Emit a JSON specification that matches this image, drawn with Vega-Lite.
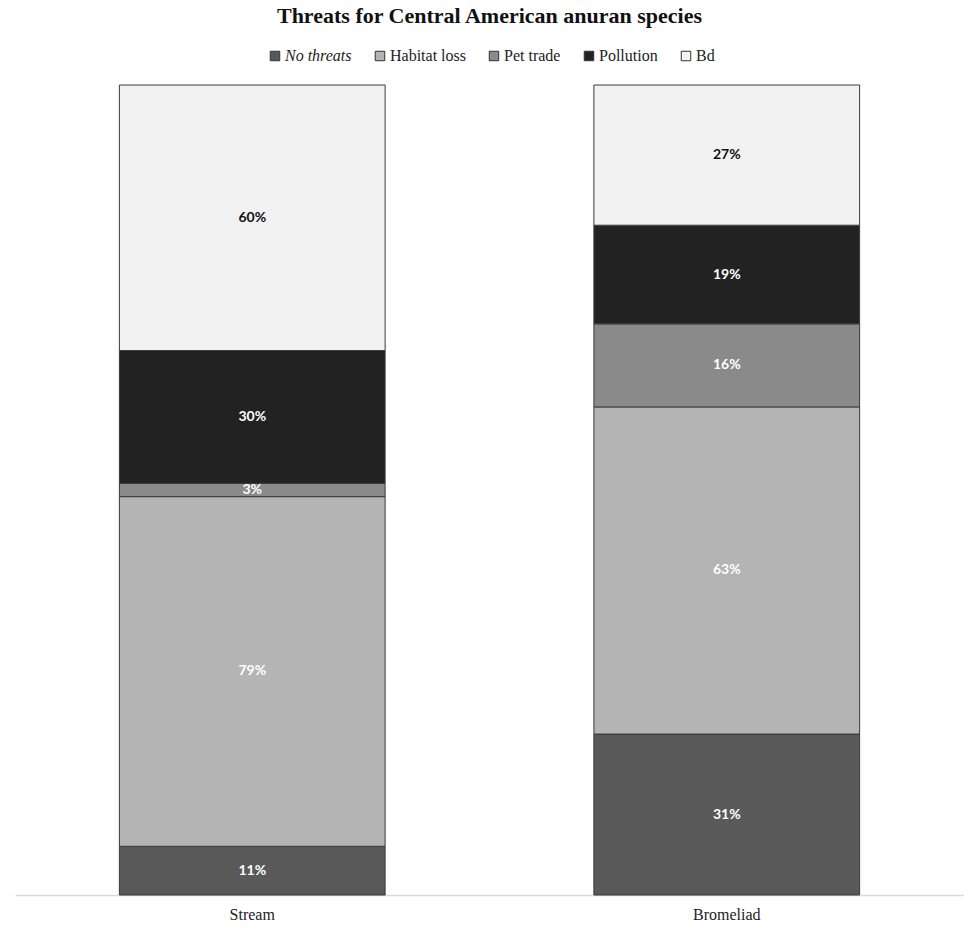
{
  "$schema": "https://vega.github.io/schema/vega-lite/v6.json",
  "width": 949,
  "height": 810,
  "autosize": "none",
  "padding": {"left": 15, "top": 85, "right": 0, "bottom": 31},
  "background": "white",
  "title": {
    "text": "Threats for Central American anuran species",
    "font": "Liberation Serif",
    "fontSize": 22,
    "fontWeight": "bold",
    "color": "#111111",
    "anchor": "middle",
    "offset": 20
  },
  "data": {
    "values": [
      {"habitat": "Stream", "threat": "No threats", "rank": 1, "pct": 11},
      {"habitat": "Stream", "threat": "Habitat loss", "rank": 2, "pct": 79},
      {"habitat": "Stream", "threat": "Pet trade", "rank": 3, "pct": 3},
      {"habitat": "Stream", "threat": "Pollution", "rank": 4, "pct": 30},
      {"habitat": "Stream", "threat": "Bd", "rank": 5, "pct": 60},
      {"habitat": "Bromeliad", "threat": "No threats", "rank": 1, "pct": 31},
      {"habitat": "Bromeliad", "threat": "Habitat loss", "rank": 2, "pct": 63},
      {"habitat": "Bromeliad", "threat": "Pet trade", "rank": 3, "pct": 16},
      {"habitat": "Bromeliad", "threat": "Pollution", "rank": 4, "pct": 19},
      {"habitat": "Bromeliad", "threat": "Bd", "rank": 5, "pct": 27}
    ]
  },
  "transform": [
    {"calculate": "datum.pct + '%'", "as": "label"}
  ],
  "encoding": {
    "x": {
      "field": "habitat",
      "type": "nominal",
      "sort": ["Stream", "Bromeliad"],
      "scale": {"paddingInner": 0.44, "paddingOuter": 0.22},
      "axis": {
        "title": null,
        "labelAngle": 0,
        "labelFont": "Liberation Serif",
        "labelFontSize": 16,
        "labelColor": "#222222",
        "labelPadding": 11,
        "ticks": false,
        "domainColor": "#d9d9d9",
        "domainWidth": 1.5
      }
    }
  },
  "layer": [
    {
      "mark": {"type": "bar", "stroke": "#3a3a3a", "strokeWidth": 1},
      "encoding": {
        "y": {
          "field": "pct",
          "type": "quantitative",
          "stack": "normalize",
          "axis": null
        },
        "order": {"field": "rank", "type": "quantitative", "sort": "ascending"},
        "color": {
          "field": "threat",
          "type": "nominal",
          "scale": {
            "domain": ["No threats", "Habitat loss", "Pet trade", "Pollution", "Bd"],
            "range": ["#595959", "#b4b4b4", "#8a8a8a", "#222222", "#f2f2f2"]
          },
          "legend": {
            "title": null,
            "orient": "none",
            "direction": "horizontal",
            "legendX": 252,
            "legendY": -37,
            "symbolType": "square",
            "symbolSize": 90,
            "symbolStrokeColor": "#333333",
            "symbolStrokeWidth": 1,
            "symbolOpacity": 1,
            "labelFont": "Liberation Serif",
            "labelFontSize": 16,
            "labelColor": "#222222",
            "labelOffset": 2,
            "columnPadding": 20,
            "encode": {
              "labels": {
                "update": {
                  "fontStyle": {"signal": "datum.label === 'No threats' ? 'italic' : 'normal'"}
                }
              }
            }
          }
        }
      }
    },
    {
      "mark": {
        "type": "text",
        "font": "Lato",
        "fontSize": 14,
        "fontWeight": "bold",
        "baseline": "middle"
      },
      "encoding": {
        "y": {
          "field": "pct",
          "type": "quantitative",
          "stack": "normalize",
          "bandPosition": 0.5
        },
        "order": {"field": "rank", "type": "quantitative", "sort": "ascending"},
        "text": {"field": "label", "type": "nominal"},
        "color": {
          "condition": {"test": "datum.threat === 'Bd'", "value": "#111111"},
          "value": "white"
        }
      }
    }
  ],
  "config": {
    "view": {"stroke": null}
  }
}
